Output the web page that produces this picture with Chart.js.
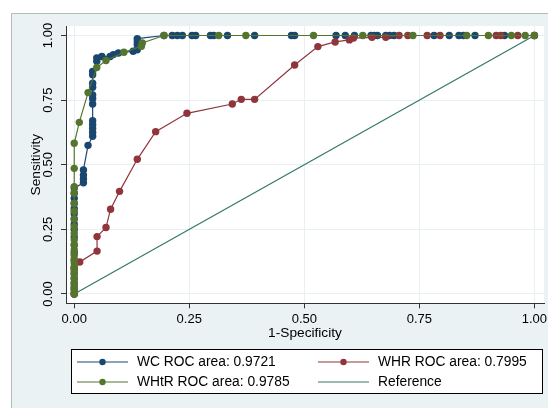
<!DOCTYPE html>
<html><head><meta charset="utf-8">
<script src="https://cdn.jsdelivr.net/npm/chart.js@4.4.0/dist/chart.umd.min.js"></script>
<style>html,body{margin:0;padding:0;background:#fff;overflow:hidden}</style>
</head><body>
<canvas id="c" width="548" height="408" style="display:block;width:548px;height:408px"></canvas>
<script>
// ---- data ----
const xTickValues = [0, 0.25, 0.5, 0.75, 1];
const xTickLabels = ["0.00", "0.25", "0.50", "0.75", "1.00"];
const yTickValues = [0, 0.25, 0.5, 0.75, 1];
const yTickLabels = ["0.00", "0.25", "0.50", "0.75", "1.00"];
const xTitle = "1-Specificity";
const yTitle = "Sensitivity";
const seriesLabels = ["WC ROC area: 0.9721", "WHR ROC area: 0.7995", "WHtR ROC area: 0.9785", "Reference"];

const wcX = [0,0,0,0,0,0,0,0,0,0,0,0,0,0,0,0,0,0,0,
  0.02,0.02,0.02,0.02,0.03,0.04,0.04,0.04,0.04,0.04,0.04,0.04,0.04,0.04,0.04,0.04,0.04,
  0.049,0.049,0.06,0.078,0.085,0.096,0.128,0.137,0.137,0.137,0.137,
  0.195,0.213,0.224,0.235,0.256,0.264,0.296,0.303,0.333,0.392,0.472,0.479,0.569,0.589,0.609,
  0.645,0.652,0.659,0.677,0.685,0.695,0.782,0.815,0.836,0.846,0.871,0.935,1.0];
const wcY = [0,0.02,0.04,0.06,0.08,0.10,0.13,0.16,0.19,0.22,0.25,0.27,0.29,0.31,0.33,0.35,0.37,0.39,0.41,
  0.43,0.445,0.46,0.48,0.575,0.61,0.625,0.64,0.655,0.67,0.735,0.755,0.77,0.80,0.815,0.848,0.861,
  0.90,0.913,0.919,0.919,0.926,0.932,0.939,0.945,0.964,0.976,0.988,
  1,1,1,1,1,1,1,1,1,1,1,1,1,1,1,
  1,1,1,1,1,1,1,1,1,1,1,1,1];

const whrX = [0,0,0.012,0.0496,0.0496,0.069,0.079,0.0985,0.137,0.177,0.245,0.3435,0.363,0.392,
  0.479,0.5295,0.567,0.598,0.607,0.647,0.677,0.706,0.725,0.767,0.795,0.917,0.927,0.964,1.0];
const whrY = [0,0.10,0.124,0.166,0.222,0.257,0.328,0.397,0.521,0.628,0.699,0.735,0.753,0.753,
  0.886,0.957,0.975,0.983,0.99,0.993,0.993,1,1,1,1,1,1,1,1];

const whtrX = [0,0,0,0,0,0,0,0,0,0,0,0,0,0,0,0,0,0,0,0,0,0,0,0,
  0.011,0.030,0.049,0.069,0.108,0.146,0.148,
  0.195,0.314,0.373,0.520,0.627,0.736,0.853,0.900,0.950,0.980,1.0];
const whtrY = [0,0.01,0.02,0.03,0.045,0.06,0.075,0.09,0.105,0.12,0.135,0.15,0.17,0.19,0.21,0.235,0.26,0.29,0.32,0.35,0.39,0.415,0.486,0.583,
  0.664,0.779,0.876,0.903,0.935,0.958,0.971,
  1,1,1,1,1,1,1,1,1,1,1];

const refX = [0, 1];
const refY = [0, 1];

// ---- styling ----
const colors = ["#1a476f", "#90353b", "#55752f", "#33786b"];
const FONT = '"Liberation Sans", Arial, sans-serif';

const pts = (xs, ys) => xs.map((x, i) => ({x: x, y: ys[i]}));

const decor = {
  id: 'decor',
  beforeDraw(chart) {
    const ctx = chart.ctx, a = chart.chartArea;
    const W = chart.width, H = chart.height;
    ctx.save();
    ctx.fillStyle = '#ffffff'; ctx.fillRect(0, 0, W, H);
    ctx.fillStyle = '#eaf2f3'; ctx.fillRect(11, 13, W - 11, H - 13);
    ctx.strokeStyle = '#b4b9b9'; ctx.lineWidth = 1;
    ctx.beginPath(); ctx.moveTo(11.5, H); ctx.lineTo(11.5, 13.5); ctx.lineTo(W, 13.5); ctx.stroke();
    ctx.fillStyle = '#ffffff'; ctx.fillRect(a.left, a.top, a.right - a.left, a.bottom - a.top);
    ctx.restore();
  },
  afterDraw(chart) {
    const ctx = chart.ctx, ys = chart.scales.y;
    ctx.save();
    // rotated y tick labels
    ctx.fillStyle = '#000'; ctx.font = '13px ' + FONT;
    ctx.textAlign = 'center'; ctx.textBaseline = 'middle';
    ys.ticks.forEach((t, i) => {
      const py = ys.getPixelForValue(t.value);
      ctx.save(); ctx.translate(48.5, py); ctx.rotate(-Math.PI / 2);
      ctx.fillText(yTickLabels[i], 0, 0); ctx.restore();
    });
    // legend box
    const L = 71.5, T = 349.5, R = 542.5, B = 393.5;
    ctx.fillStyle = '#fff'; ctx.fillRect(L, T, R - L, B - T);
    ctx.strokeStyle = '#000'; ctx.lineWidth = 1; ctx.strokeRect(L, T, R - L, B - T);
    const cols = [77, 318], rows = [362, 382];
    const order = [[0, 0, 0], [1, 1, 0], [2, 0, 1], [3, 1, 1]];
    ctx.font = '13.8px ' + FONT; ctx.textAlign = 'left'; ctx.textBaseline = 'middle';
    order.forEach(([di, c, r]) => {
      const ds = chart.data.datasets[di];
      const x0 = cols[c], y0 = rows[r];
      ctx.strokeStyle = ds.borderColor; ctx.lineWidth = 1.2;
      ctx.beginPath(); ctx.moveTo(x0, y0); ctx.lineTo(x0 + 51, y0); ctx.stroke();
      if (di !== 3) {
        ctx.fillStyle = ds.borderColor;
        ctx.beginPath(); ctx.arc(x0 + 25.5, y0, 3.2, 0, Math.PI * 2); ctx.fill();
      }
      ctx.fillStyle = '#000';
      ctx.fillText(ds.label, x0 + 60, y0 + 0.5);
    });
    ctx.restore();
  }
};

const lineDs = (i, data, order, withPoints) => ({
  label: seriesLabels[i],
  data: data,
  borderColor: colors[i],
  backgroundColor: colors[i],
  pointBackgroundColor: colors[i],
  pointBorderWidth: 0,
  pointRadius: withPoints ? 3.7 : 0,
  borderWidth: 1.2,
  tension: 0,
  fill: false,
  order: order
});

new Chart(document.getElementById('c'), {
  type: 'line',
  data: {
    datasets: [
      lineDs(0, pts(wcX, wcY), 2, true),
      lineDs(1, pts(whrX, whrY), 1, true),
      lineDs(2, pts(whtrX, whtrY), 0, true),
      lineDs(3, pts(refX, refY), 3, false)
    ]
  },
  options: {
    responsive: false,
    devicePixelRatio: 1,
    animation: false,
    layout: { padding: { left: 0, top: 26, right: 0, bottom: 59.7 } },
    plugins: { legend: { display: false }, tooltip: { enabled: false } },
    scales: {
      x: {
        type: 'linear',
        min: -0.0179, max: 1.0209,
        afterBuildTicks: s => { s.ticks = xTickValues.map(v => ({value: v})); },
        afterFit: s => { s.height = 45; s.paddingLeft = 0; s.paddingRight = 0; },
        ticks: {
          callback: (v) => xTickLabels[xTickValues.indexOf(v)],
          color: '#000', font: { family: FONT, size: 13 }, padding: 3, maxRotation: 0, autoSkip: false
        },
        grid: { color: '#e8f0f1', lineWidth: 1, drawTicks: true, tickLength: 5, tickColor: '#333', tickWidth: 1 },
        border: { display: true, color: '#333', width: 1 },
        title: { display: true, text: xTitle, color: '#000', font: { family: FONT, size: 13.7 }, padding: { top: 0, bottom: 7.2 } }
      },
      y: {
        type: 'linear',
        min: -0.036, max: 1.0367,
        afterBuildTicks: s => { s.ticks = yTickValues.map(v => ({value: v})); },
        afterFit: s => { s.width = 66; s.paddingTop = 0; s.paddingBottom = 0; },
        ticks: { display: false },
        grid: { color: '#e8f0f1', lineWidth: 1, drawTicks: true, tickLength: 5, tickColor: '#333', tickWidth: 1 },
        border: { display: true, color: '#333', width: 1 },
        title: { display: true, text: yTitle, color: '#000', font: { family: FONT, size: 13.7 }, padding: { top: 28.5, bottom: 0 } }
      }
    }
  },
  plugins: [decor]
});
</script>
</body></html>
